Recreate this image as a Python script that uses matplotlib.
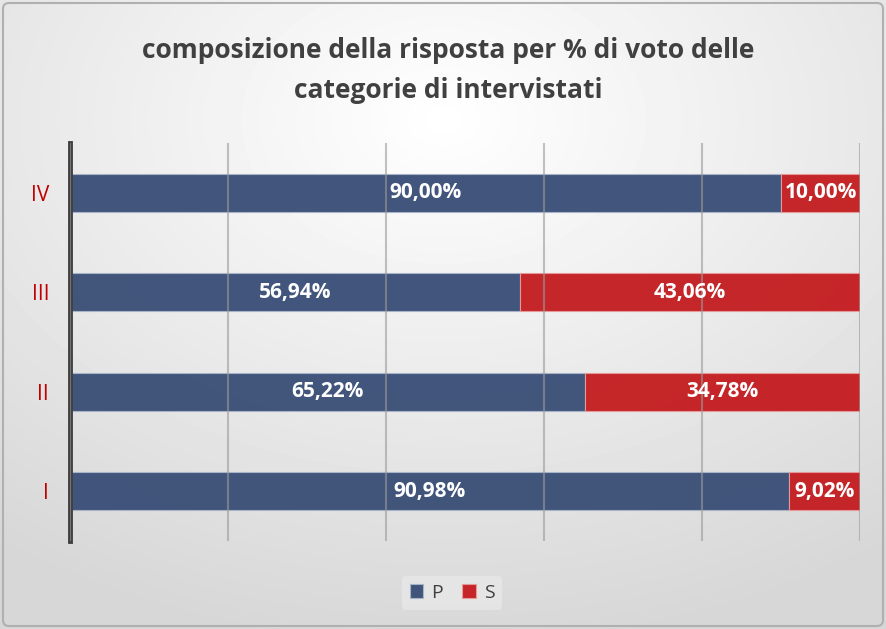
import numpy as np
import matplotlib.pyplot as plt
from matplotlib.patches import FancyBboxPatch

categories = ["I", "II", "III", "IV"]
p_values = [90.98, 65.22, 56.94, 90.00]
s_values = [9.02, 34.78, 43.06, 10.00]
p_labels = ["90,98%", "65,22%", "56,94%", "90,00%"]
s_labels = ["9,02%", "34,78%", "43,06%", "10,00%"]

blue = "#3c5078"
red = "#c41f22"

plt.rcParams['font.family'] = ['Open Sans', 'DejaVu Sans']

fig = plt.figure(figsize=(8.86, 6.29), dpi=100)

# sfondo sfumato
bg = fig.add_axes([0, 0, 1, 1], zorder=0)
yy, xx = np.mgrid[0:629, 0:886]
r = np.sqrt(((xx - 443) / 886) ** 2 + ((yy - 120) / 629) ** 2)
shade = 1.0 - 0.16 * np.clip(r / 0.85, 0, 1)
bg.imshow(shade, cmap="gray", vmin=0, vmax=1, aspect="auto", extent=(0, 886, 629, 0))
bg.add_patch(FancyBboxPatch((3, 3), 880, 623, boxstyle="round,pad=0,rounding_size=6",
                            fill=False, edgecolor="#b0b0b0", linewidth=1.5))
bg.set_xlim(0, 886)
bg.set_ylim(629, 0)
bg.axis("off")

ax = fig.add_axes([70 / 886, 1 - 541 / 629, 790 / 886, 398 / 629], zorder=1)
ax.patch.set_alpha(0)

y = np.arange(len(categories))
ax.barh(y, p_values, height=0.38, color=blue, edgecolor="#aab4c8", linewidth=0.8,
        alpha=0.97, label="P", zorder=2)
ax.barh(y, s_values, left=p_values, height=0.38, color=red, edgecolor="#e89a9a",
        linewidth=0.8, alpha=0.97, label="S", zorder=2)

for i in range(len(categories)):
    ax.text(p_values[i] / 2, y[i], p_labels[i], ha="center", va="center",
            color="white", fontsize=15, fontweight="bold", zorder=4)
    ax.text(p_values[i] + s_values[i] / 2, y[i], s_labels[i], ha="center", va="center",
            color="white", fontsize=15, fontweight="bold", zorder=4)

ax.set_xlim(0, 100)
ax.set_ylim(-0.5, 3.5)
ax.set_xticks([0, 20, 40, 60, 80, 100])
ax.set_xticklabels([])
ax.set_yticks(y)
ax.set_yticklabels(categories, color="#c00000", fontsize=15)
ax.tick_params(axis="y", length=0, pad=15)
ax.tick_params(axis="x", length=0)
ax.grid(axis="x", color="#9a9a9a", linewidth=1.5, alpha=0.6, zorder=3)
ax.set_axisbelow(False)
for s in ["top", "right", "bottom"]:
    ax.spines[s].set_visible(False)
ax.spines["left"].set_color("#404040")
ax.spines["left"].set_linewidth(3.5)

fig.text(0.506, 1 - 50 / 629, "composizione della risposta per % di voto delle",
         ha="center", va="center", fontsize=19, fontweight="bold", color="#404040")
fig.text(0.506, 1 - 90 / 629, "categorie di intervistati",
         ha="center", va="center", fontsize=19, fontweight="bold", color="#404040")

fig.legend(loc="center", bbox_to_anchor=(452 / 886, 1 - 593 / 629), ncol=2,
           frameon=True, facecolor="#ececec", edgecolor="none", framealpha=0.6,
           fontsize=14, handlelength=0.7, handleheight=0.7, handletextpad=0.4,
           columnspacing=1.0, labelcolor="#404040")

fig.savefig("out.png", dpi=100)
